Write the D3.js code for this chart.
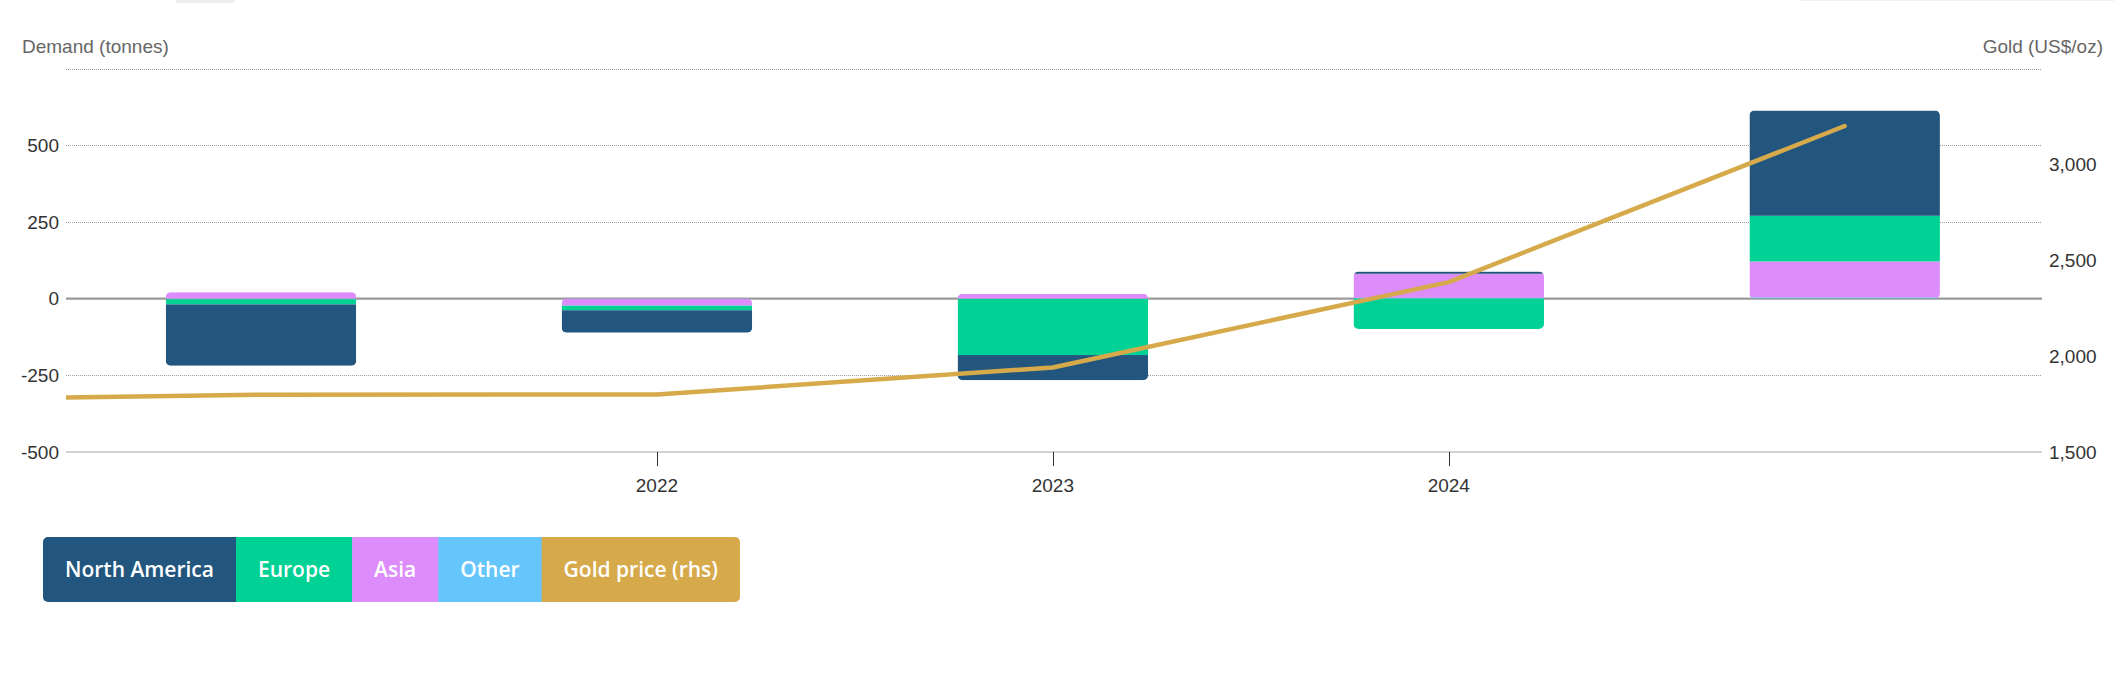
<!DOCTYPE html>
<html>
<head>
<meta charset="utf-8">
<script src="https://cdn.jsdelivr.net/npm/d3@7"></script>
<style>
  html, body { margin: 0; padding: 0; background: #fff; }
  svg { display: block; }
</style>
</head>
<body>
<svg id="chart" width="2114" height="676"></svg>
<script>
// ---- data ----
const categories = [2021, 2022, 2023, 2024, 2025];
const northAmerica = [-200, -73, -82, 7, 343];
const europe = [-17, -15, -183, -99, 149];
const asia = [21, -22, 16, 78, 117];
const other = [-2, -1, -1, 3, 4];
const priceYears = [2020, 2021, 2022, 2023, 2024, 2025];
const goldPrice = [1770, 1799, 1800, 1941, 2386, 3200];
const xTickLabels = [2022, 2023, 2024];
const leftTicks = [-500, -250, 0, 250, 500];
const leftGrid = [-500, -250, 0, 250, 500, 750];
const rightTicks = [1500, 2000, 2500, 3000];
const seriesNames = ["North America", "Europe", "Asia", "Other", "Gold price (rhs)"];
const colors = {
  "North America": "#22567f",
  "Europe": "#00d195",
  "Asia": "#dd8cfb",
  "Other": "#65c6fe",
  "Gold price (rhs)": "#d6aa4b"
};

// ---- layout ----
const svg = d3.select("#chart");
const plot = { left: 66, right: 2042, top: 68.5, bottom: 452 };

const x = d3.scaleLinear().domain([2021, 2025]).range([261, 1844.7]);
const yL = d3.scaleLinear().domain([-500, 750]).range([plot.bottom, plot.top]);
const yR = d3.scaleLinear().domain([1500, 3500]).range([plot.bottom, plot.top]);
const step = x(2022) - x(2021);
const barW = step * 0.481;

// decorative page remnants at the top
svg.append("rect").attr("x", 176).attr("y", 0).attr("width", 58).attr("height", 3).attr("fill", "#ececec");
svg.append("rect").attr("x", 1800).attr("y", 0).attr("width", 314).attr("height", 1).attr("fill", "#f0f0f0");

// gridlines
svg.append("g").selectAll("line").data(leftGrid.filter(d => d !== 0 && d !== -500)).join("line")
  .attr("x1", plot.left).attr("x2", plot.right)
  .attr("y1", d => Math.round(yL(d)) + 0.5).attr("y2", d => Math.round(yL(d)) + 0.5)
  .attr("stroke", "#9c9c9c").attr("stroke-width", 1).attr("stroke-dasharray", "1,1");

// bottom axis line
svg.append("line")
  .attr("x1", plot.left).attr("x2", plot.right)
  .attr("y1", yL(-500)).attr("y2", yL(-500))
  .attr("stroke", "#a6a6a6").attr("stroke-width", 1.2);

// zero line
svg.append("line")
  .attr("x1", plot.left).attr("x2", plot.right)
  .attr("y1", yL(0)).attr("y2", yL(0))
  .attr("stroke", "#9a9a9a").attr("stroke-width", 2.2);

// left axis labels (plain hyphen minus as in the original)
svg.append("g").selectAll("text").data(leftTicks).join("text")
  .attr("x", 59).attr("y", d => yL(d)).attr("dy", "0.35em")
  .attr("text-anchor", "end")
  .attr("font-family", "Liberation Sans, Arial, sans-serif")
  .attr("font-size", 19).attr("fill", "#333")
  .text(d => String(d));

// right axis labels
svg.append("g").selectAll("text").data(rightTicks).join("text")
  .attr("x", 2049).attr("y", d => yR(d)).attr("dy", "0.35em")
  .attr("text-anchor", "start")
  .attr("font-family", "Liberation Sans, Arial, sans-serif")
  .attr("font-size", 19).attr("fill", "#333")
  .text(d => d3.format(",")(d));

// axis titles
svg.append("text").attr("x", 22).attr("y", 53)
  .attr("font-family", "Liberation Sans, Arial, sans-serif")
  .attr("font-size", 19).attr("fill", "#666").text("Demand (tonnes)");
svg.append("text").attr("x", 2103).attr("y", 53).attr("text-anchor", "end")
  .attr("font-family", "Liberation Sans, Arial, sans-serif")
  .attr("font-size", 19).attr("fill", "#666").text("Gold (US$/oz)");

// x ticks and labels
const xt = svg.append("g").selectAll("g").data(xTickLabels).join("g");
xt.append("line")
  .attr("x1", d => Math.round(x(d)) + 0.5).attr("x2", d => Math.round(x(d)) + 0.5)
  .attr("y1", plot.bottom).attr("y2", plot.bottom + 14)
  .attr("stroke", "#333").attr("stroke-width", 1);
xt.append("text")
  .attr("x", d => x(d)).attr("y", 492).attr("text-anchor", "middle")
  .attr("font-family", "Liberation Sans, Arial, sans-serif")
  .attr("font-size", 19).attr("fill", "#333").text(d => d);

// stacked bars
const rows = categories.map((c, i) => ({
  year: c,
  "North America": northAmerica[i],
  "Europe": europe[i],
  "Asia": asia[i],
  "Other": other[i]
}));
const stackKeys = ["Other", "Asia", "Europe", "North America"];
const stacked = d3.stack().keys(stackKeys).offset(d3.stackOffsetDiverging)(rows);

const defs = svg.append("defs");
rows.forEach((r, i) => {
  const lo = d3.min(stacked, s => Math.min(s[i][0], s[i][1]));
  const hi = d3.max(stacked, s => Math.max(s[i][0], s[i][1]));
  defs.append("clipPath").attr("id", "bar" + i).append("rect")
    .attr("x", x(r.year) - barW / 2).attr("width", barW)
    .attr("y", yL(hi)).attr("height", yL(lo) - yL(hi))
    .attr("rx", 5).attr("ry", 5);
});
defs.append("clipPath").attr("id", "plotclip").append("rect")
  .attr("x", plot.left).attr("y", 0).attr("width", plot.right - plot.left).attr("height", plot.bottom);

const barsG = svg.append("g");
stacked.forEach(s => {
  barsG.append("g").attr("fill", colors[s.key])
    .selectAll("rect").data(s).join("rect")
    .attr("clip-path", (d, i) => "url(#bar" + i + ")")
    .attr("x", d => x(d.data.year) - barW / 2)
    .attr("width", barW)
    .attr("y", d => yL(Math.max(d[0], d[1])))
    .attr("height", d => Math.abs(yL(d[0]) - yL(d[1])));
});

// gold price line
const line = d3.line().x((d, i) => x(priceYears[i])).y(d => yR(d));
svg.append("path")
  .attr("clip-path", "url(#plotclip)")
  .attr("d", line(goldPrice))
  .attr("fill", "none").attr("stroke", colors["Gold price (rhs)"])
  .attr("stroke-width", 4.5).attr("stroke-linecap", "round").attr("stroke-linejoin", "round");

// legend
const legend = svg.append("g");
const legTop = 537, legH = 65, pad = 22, legX0 = 43;
const legFont = 21;
defs.append("clipPath").attr("id", "legclip");
let cx = legX0;
const legItems = [];
seriesNames.forEach(name => {
  const t = legend.append("text")
    .attr("font-family", "Open Sans, sans-serif").attr("font-weight", 600)
    .attr("font-size", legFont).attr("fill", "#fff").text(name);
  const w = t.node().getComputedTextLength();
  legItems.push({ name, t, w, x: cx });
  cx += w + 2 * pad;
});
const legW = cx - legX0;
d3.select("#legclip").append("rect").attr("x", legX0).attr("y", legTop)
  .attr("width", legW).attr("height", legH).attr("rx", 5).attr("ry", 5);
const legRects = legend.insert("g", ":first-child").attr("clip-path", "url(#legclip)");
legItems.forEach(it => {
  legRects.append("rect").attr("x", it.x).attr("y", legTop)
    .attr("width", it.w + 2 * pad + 0.5).attr("height", legH).attr("fill", colors[it.name]);
  it.t.attr("x", it.x + pad).attr("y", legTop + legH / 2).attr("dy", "0.35em");
});
</script>
</body>
</html>
